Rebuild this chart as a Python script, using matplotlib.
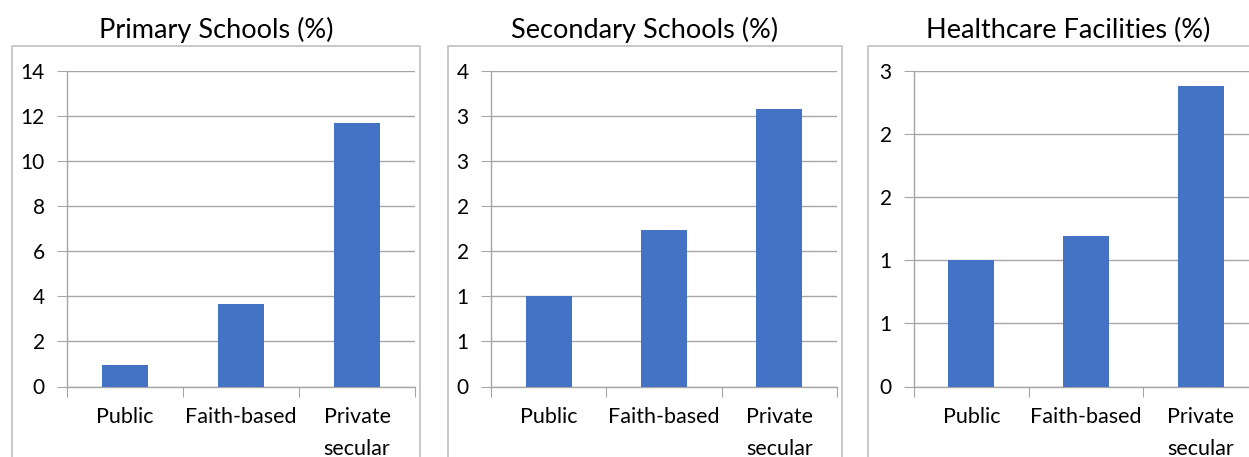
import numpy as np
import matplotlib
matplotlib.use("Agg")
import matplotlib.pyplot as plt
from matplotlib.patches import Rectangle
from matplotlib.ticker import FuncFormatter, MultipleLocator

plt.rcParams['font.family'] = ['Lato', 'DejaVu Sans']

categories = ["Public", "Faith-based", "Private\nsecular"]
titles = ["Primary Schools (%)", "Secondary Schools (%)", "Healthcare Facilities (%)"]
primary = [0.96, 3.66, 11.7]
secondary = [1.0, 1.73, 3.08]
healthcare = [1.0, 1.19, 2.38]
y_max = [14, 3.5, 2.5]
y_step = [2, 0.5, 0.5]

W, H = 1249, 457
fig = plt.figure(figsize=(W / 100, H / 100), dpi=100)

bar_color = "#4472C4"
grid_color = "#A6A6A6"
box_color = "#BFBFBF"

# pixel layout: (box left, box right, axes left, axes right)
layout = [(12, 420, 67, 415), (448, 842, 491, 837), (868, 1268, 914, 1258)]
ax_top, ax_bot, box_top = 70.7, 386.5, 46

def excel_round(v, pos):
    return str(int(np.floor(v + 0.5)))

for i, vals in enumerate([primary, secondary, healthcare]):
    bl, br, al, ar = layout[i]
    fig.patches.append(Rectangle((bl / W, -0.1), (br - bl) / W, 1.1 - box_top / H,
                                 transform=fig.transFigure, fill=False,
                                 edgecolor=box_color, linewidth=1.2))
    fig.text((bl + br) / 2 / W, 1 - 30 / H, titles[i], ha="center", va="center",
             fontsize=19.5)
    ax = fig.add_axes([al / W, 1 - ax_bot / H, (ar - al) / W, (ax_bot - ax_top) / H])
    x = np.arange(len(categories))
    ax.bar(x, vals, width=0.4, color=bar_color, zorder=3)
    ax.set_xlim(-0.5, 2.5)
    ax.set_ylim(0, y_max[i])
    ax.yaxis.set_major_locator(MultipleLocator(y_step[i]))
    ax.yaxis.set_major_formatter(FuncFormatter(excel_round))
    ax.grid(axis="y", color=grid_color, linewidth=1.0, zorder=0)
    for s in ["top", "right"]:
        ax.spines[s].set_visible(False)
    for s in ["left", "bottom"]:
        ax.spines[s].set_color(grid_color)
        ax.spines[s].set_linewidth(1.0)
    ax.set_xticks([-0.5, 0.5, 1.5, 2.5])
    ax.set_xticklabels([])
    ax.set_xticks(x, minor=True)
    ax.set_xticklabels(categories, minor=True, fontsize=15.5, linespacing=1.75, va="top")
    ax.tick_params(axis="x", which="major", length=7, color=grid_color, direction="out")
    ax.tick_params(axis="x", which="minor", length=0, pad=15)
    ax.tick_params(axis="y", length=7, color=grid_color, labelsize=15, pad=9)

fig.savefig("out.png", dpi=100)
